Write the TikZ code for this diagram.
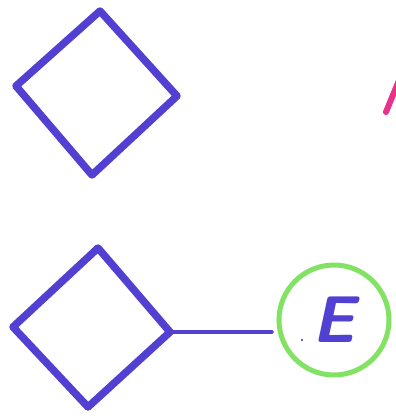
\documentclass[tikz,border=0pt]{standalone}
\begin{document}
\begin{tikzpicture}[x=1pt,y=-1pt,
  ink/.style={draw=inkblue,line width=7.5pt,line join=round,line cap=round},
  ring/.style={circle,draw=ringgreen,line width=5pt,minimum size=110pt,inner sep=0pt,
    text=inkblue,font=\fontsize{66}{66}\selectfont\sffamily\bfseries\itshape}]
\definecolor{inkblue}{RGB}{82,64,210}
\definecolor{ringgreen}{RGB}{130,226,100}
\definecolor{inkpink}{RGB}{232,50,140}
\useasboundingbox (0,0) rectangle (396,418);
\clip (0,0) rectangle (396,418);
% top diamond
\coordinate (at) at (100,11);
\coordinate (ar) at (177,96);
\coordinate (ab) at (92,175);
\coordinate (al) at (16,86);
\draw[ink] (at) -- (ar) -- (ab) -- (al) -- cycle;
% bottom diamond
\coordinate (bt) at (98,248);
\coordinate (br) at (170,332);
\coordinate (bb) at (88,407);
\coordinate (bl) at (13,327);
\draw[ink] (bt) -- (br) -- (bb) -- (bl) -- cycle;
% circle E
\node[ring] (e) at (334,320) {E};
\draw[ink,line width=4.5pt,shorten >=5pt] (br) -- (br -| e.west);
\fill[inkblue!70!black] (302,340) circle (1.2pt);
% pink stroke
\coordinate (p1) at (386,112);
\coordinate (p2) at (400,78);
\draw[draw=inkpink,line width=6pt,line cap=round] (p1) -- (p2);
\end{tikzpicture}
\end{document}
